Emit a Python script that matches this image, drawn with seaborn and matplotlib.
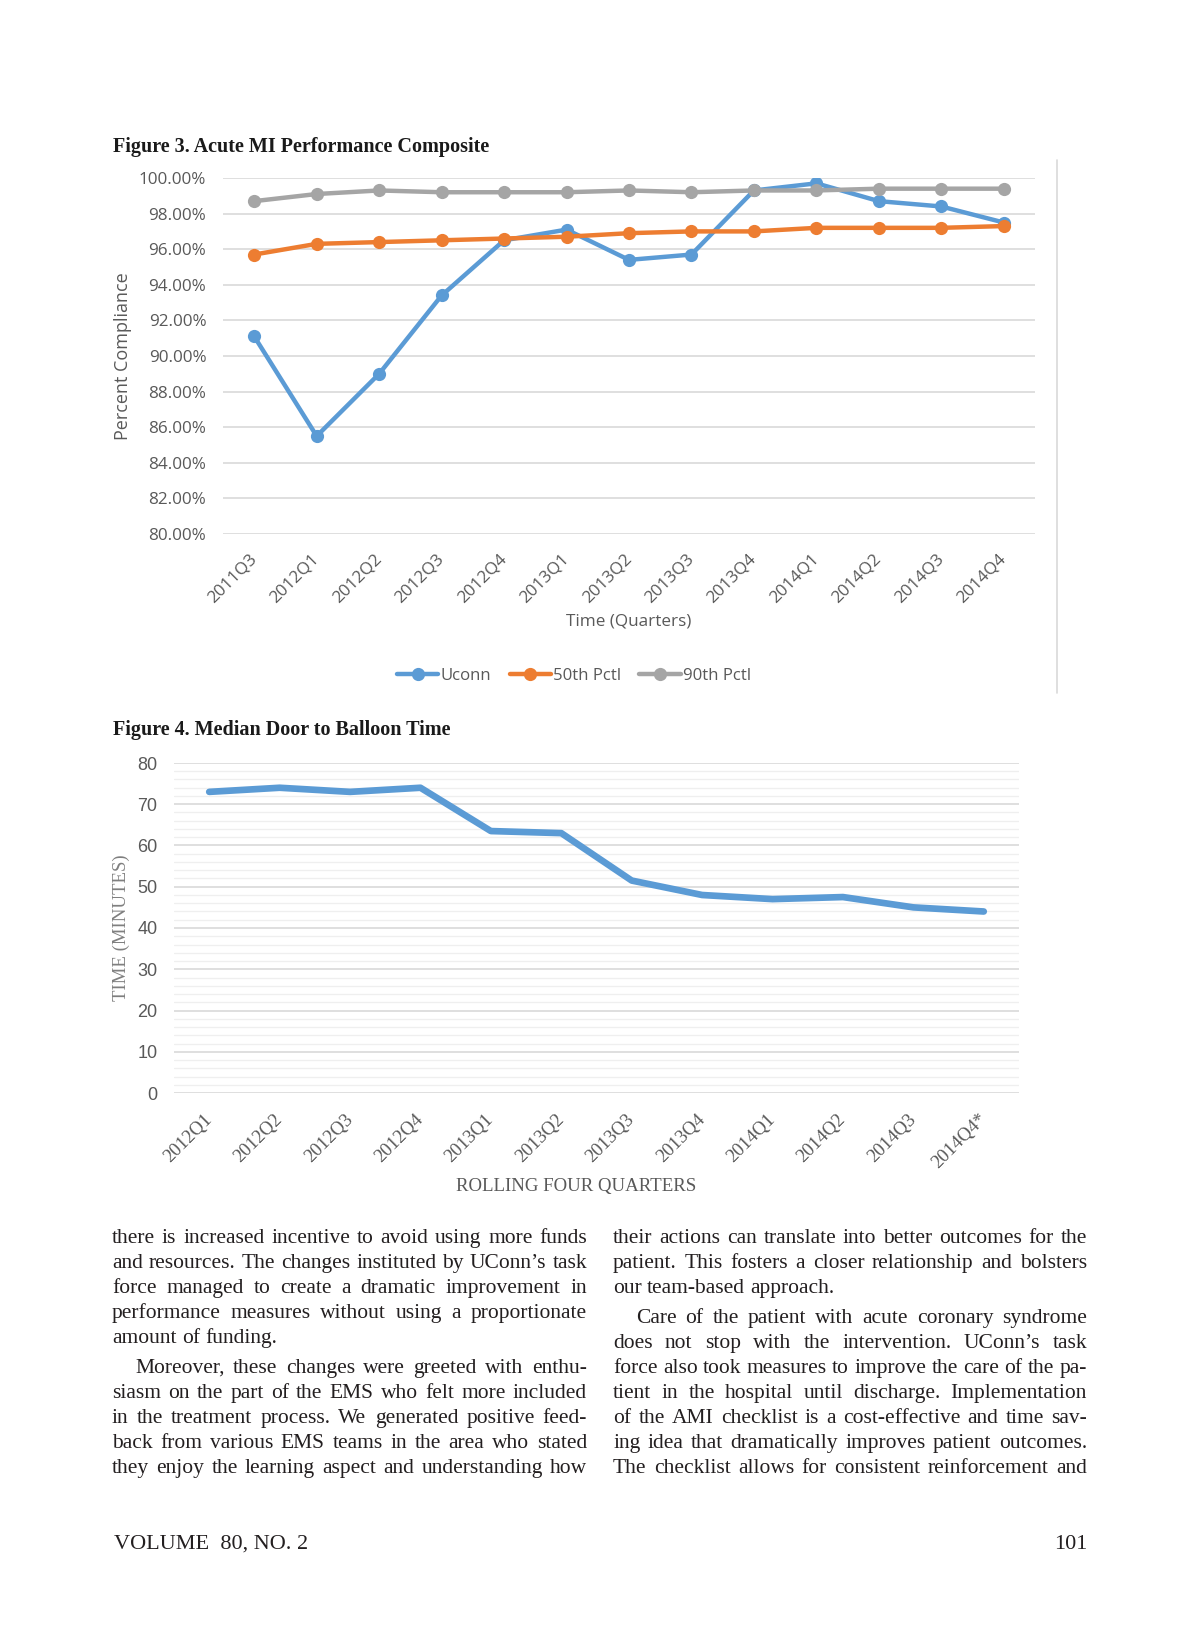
import numpy as np
import pandas as pd
import matplotlib
matplotlib.use('Agg')
import matplotlib.pyplot as plt
from matplotlib.lines import Line2D
from matplotlib.ticker import FuncFormatter, MultipleLocator
import seaborn as sns

# Figure 3 - percent compliance by quarter
quarters_3 = ['2011Q3', '2012Q1', '2012Q2', '2012Q3', '2012Q4', '2013Q1', '2013Q2',
              '2013Q3', '2013Q4', '2014Q1', '2014Q2', '2014Q3', '2014Q4']
uconn = [91.1, 85.5, 89.0, 93.4, 96.5, 97.1, 95.4, 95.7, 99.3, 99.7, 98.7, 98.4, 97.5]
pctl_50 = [95.7, 96.3, 96.4, 96.5, 96.6, 96.7, 96.9, 97.0, 97.0, 97.2, 97.2, 97.2, 97.3]
pctl_90 = [98.7, 99.1, 99.3, 99.2, 99.2, 99.2, 99.3, 99.2, 99.3, 99.3, 99.4, 99.4, 99.4]
series_names = ['Uconn', '50th Pctl', '90th Pctl']
series_colors = ['#5B9BD5', '#ED7D31', '#A5A5A5']

# Figure 4 - median door to balloon time (minutes)
quarters_4 = ['2012Q1', '2012Q2', '2012Q3', '2012Q4', '2013Q1', '2013Q2', '2013Q3',
              '2013Q4', '2014Q1', '2014Q2', '2014Q3', '2014Q4*']
d2b_minutes = [73.0, 74.0, 73.0, 74.0, 63.5, 63.0, 51.5, 48.0, 47.0, 47.5, 45.0, 44.0]

# body text
left_par1 = ['there is increased incentive to avoid using more funds',
             'and resources. The changes instituted by UConn\u2019s task',
             'force managed to create a dramatic improvement in',
             'performance measures without using a proportionate',
             'amount of funding.']
left_par2 = ['Moreover, these changes were greeted with enthu-',
             'siasm on the part of the EMS who felt more included',
             'in the treatment process. We generated positive feed-',
             'back from various EMS teams in the area who stated',
             'they enjoy the learning aspect and understanding how']
right_par1 = ['their actions can translate into better outcomes for the',
              'patient. This fosters a closer relationship and bolsters',
              'our team-based approach.']
right_par2 = ['Care of the patient with acute coronary syndrome',
              'does not stop with the intervention. UConn\u2019s task',
              'force also took measures to improve the care of the pa-',
              'tient in the hospital until discharge. Implementation',
              'of the AMI checklist is a cost-effective and time sav-',
              'ing idea that dramatically improves patient outcomes.',
              'The checklist allows for consistent reinforcement and']

W, H = 1200, 1650
SERIF = ['Liberation Serif', 'DejaVu Serif']
SANS = ['Open Sans', 'DejaVu Sans']
NARROW = ['Liberation Sans Narrow', 'Liberation Sans', 'DejaVu Sans']
GREY_TXT = '#595959'
BODY_SIZE = 15.5


def fx(px):
    return px / W


def fy(py):
    return 1 - py / H


def put_line(fig, text, x0, x1, y, justify, size, color='#231f20'):
    r = fig.canvas.get_renderer()
    words = text.split()
    items = [fig.text(fx(x0), fy(y), w, va='baseline', ha='left', fontsize=size,
                      family=SERIF, color=color) for w in words]
    widths = [t.get_window_extent(renderer=r).width for t in items]
    gap = size * 100 / 72 * 0.25
    if justify and len(words) > 1:
        gap = max((x1 - x0 - sum(widths)) / (len(words) - 1), 2)
    x = x0
    for t, w in zip(items, widths):
        t.set_x(fx(x))
        x += w + gap


def put_paragraph(fig, lines, x0, x1, y0, ends, size=BODY_SIZE):
    for i, line in enumerate(lines):
        indent = 23 if (i == 0 and ends[0]) else 0
        last = (i == len(lines) - 1) and ends[1]
        put_line(fig, line, x0 + indent, x1, y0 + 25 * i, not last, size)


sns.set_theme(style='white')
plt.rcParams['font.family'] = SANS

fig = plt.figure(figsize=(12, 16.5), dpi=100)

# ---------------- Figure 3 ----------------
fig.text(fx(113), fy(152), 'Figure 3. Acute MI Performance Composite', family=SERIF,
         fontweight='bold', fontsize=14.5, va='baseline', color='#1a1a1a')

ax1 = fig.add_axes([fx(223), fy(534), (1035 - 223) / W, (534 - 178) / H])
df3 = pd.DataFrame({'Quarter': quarters_3 * 3,
                    'Value': uconn + pctl_50 + pctl_90,
                    'Series': [s for s in series_names for _ in quarters_3]})
sns.lineplot(data=df3, x='Quarter', y='Value', hue='Series', hue_order=series_names,
             palette=series_colors, marker='o', markersize=9.5, markeredgewidth=0,
             linewidth=3.2, sort=False, legend=False, ax=ax1)
ax1.set_xlim(-0.5, len(quarters_3) - 0.5)
ax1.set_ylim(80, 100)
ax1.set_yticks(np.arange(80, 100.1, 2))
ax1.yaxis.set_major_formatter(FuncFormatter(lambda v, p: f'{v:.2f}%'))
ax1.set_xticks(range(len(quarters_3)))
ax1.set_xticklabels(quarters_3, rotation=45, ha='right', va='center', rotation_mode='anchor')
ax1.grid(axis='y', color='#d9d9d9', lw=1.2)
ax1.set_axisbelow(True)
for s in ax1.spines.values():
    s.set_visible(False)
ax1.tick_params(axis='both', length=0, labelsize=12.3, colors=GREY_TXT)
ax1.tick_params(axis='x', pad=16)
ax1.tick_params(axis='y', pad=12)
ax1.set_xlabel('')
ax1.set_ylabel('')
fig.text(fx(123), fy(356), 'Percent Compliance', rotation=90, ha='center', va='center',
         fontsize=13, color=GREY_TXT)
fig.text(fx(629), fy(622), 'Time (Quarters)', ha='center', va='center',
         fontsize=12.3, color=GREY_TXT)

handles = ax1.get_lines()[:3]
fig.legend(handles, series_names, loc='center', bbox_to_anchor=(fx(574), fy(676)),
           ncol=3, frameon=False, fontsize=12.1, handlelength=2.45, handletextpad=0.12,
           columnspacing=1.1, labelcolor=GREY_TXT)

fig.add_artist(Line2D([fx(1057), fx(1057)], [fy(160), fy(693)], color='#d9d9d9', lw=1.2))

# ---------------- Figure 4 ----------------
fig.text(fx(113), fy(735), 'Figure 4. Median Door to Balloon Time', family=SERIF,
         fontweight='bold', fontsize=14.5, va='baseline', color='#1a1a1a')

ax2 = fig.add_axes([fx(174), fy(1093), (1019 - 174) / W, (1093 - 763) / H])
sns.lineplot(x=quarters_4, y=d2b_minutes, color='#5B9BD5', linewidth=4.8, sort=False, ax=ax2)
ax2.set_xlim(-0.5, len(quarters_4) - 0.5)
ax2.set_ylim(0, 80)
ax2.set_yticks(np.arange(0, 81, 10))
ax2.yaxis.set_minor_locator(MultipleLocator(2))
ax2.grid(axis='y', which='major', color='#d9d9d9', lw=1.2)
ax2.grid(axis='y', which='minor', color='#efefef', lw=0.9)
ax2.set_axisbelow(True)
for s in ax2.spines.values():
    s.set_visible(False)
ax2.set_xticks(range(len(quarters_4)))
ax2.set_xticklabels(quarters_4, rotation=45, ha='right', va='center', rotation_mode='anchor',
                    family=SERIF, fontsize=13.5)
for t in ax2.get_yticklabels():
    t.set_family(NARROW)
ax2.tick_params(axis='both', which='both', length=0, colors=GREY_TXT)
ax2.tick_params(axis='y', labelsize=13, pad=12)
ax2.tick_params(axis='x', pad=17)
fig.text(fx(121), fy(928), 'TIME (MINUTES)', rotation=90, ha='center', va='center',
         family=SERIF, fontsize=13.5, color='#7f7f7f')
fig.text(fx(576), fy(1187), 'ROLLING FOUR QUARTERS', ha='center', va='center',
         family=SERIF, fontsize=13.6, color=GREY_TXT)

# ---------------- body text ----------------
put_paragraph(fig, left_par1, 112, 587, 1243, (False, True))
put_paragraph(fig, left_par2, 112, 587, 1373, (True, False))
put_paragraph(fig, right_par1, 613, 1087, 1243, (False, True))
put_paragraph(fig, right_par2, 613, 1087, 1323, (True, False))

fig.text(fx(114), fy(1549), 'VOLUME  80, NO. 2', family=SERIF, fontsize=16,
         va='baseline', color='#231f20')
fig.text(fx(1087), fy(1549), '101', family=SERIF, fontsize=16, ha='right',
         va='baseline', color='#231f20')

fig.savefig('out.png', dpi=100, facecolor='white')
